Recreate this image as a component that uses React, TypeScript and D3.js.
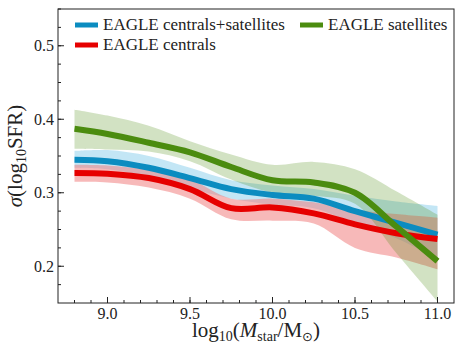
import * as d3 from "d3";
import React from "react";

// stellar mass bins (log10 Mstar/Msun)
const massBins = [8.8, 9.0, 9.25, 9.5, 9.75, 10.0, 10.25, 10.5, 10.75, 11.0];

// EAGLE centrals+satellites
const allMedian = [0.345, 0.343, 0.334, 0.32, 0.305, 0.297, 0.292, 0.275, 0.259, 0.243];
const allUpper = [0.357, 0.358, 0.35, 0.334, 0.317, 0.31, 0.305, 0.296, 0.288, 0.282];
const allLower = [0.334, 0.332, 0.322, 0.306, 0.292, 0.284, 0.279, 0.258, 0.238, 0.21];

// EAGLE centrals
const cenMedian = [0.327, 0.326, 0.32, 0.305, 0.279, 0.28, 0.272, 0.257, 0.245, 0.237];
const cenUpper = [0.338, 0.337, 0.331, 0.318, 0.292, 0.292, 0.287, 0.277, 0.271, 0.266];
const cenLower = [0.315, 0.314, 0.307, 0.292, 0.264, 0.262, 0.258, 0.225, 0.212, 0.196];

// EAGLE satellites
const satMedian = [0.387, 0.38, 0.368, 0.355, 0.335, 0.317, 0.314, 0.3, 0.254, 0.207];
const satUpper = [0.413, 0.405, 0.391, 0.37, 0.352, 0.338, 0.342, 0.332, 0.302, 0.27];
const satLower = [0.36, 0.359, 0.356, 0.343, 0.318, 0.3, 0.296, 0.285, 0.218, 0.152];

const xTicks = [9.0, 9.5, 10.0, 10.5, 11.0];
const yTicks = [0.2, 0.3, 0.4, 0.5];

const W = 464,
  H = 357;
const margin = { top: 9, right: 10, bottom: 54, left: 58 };

const series = [
  { name: "EAGLE centrals+satellites", med: allMedian, lo: allLower, hi: allUpper, color: "#0b8cc0", fill: "#87ceeb", op: 0.5 },
  { name: "EAGLE centrals", med: cenMedian, lo: cenLower, hi: cenUpper, color: "#e60000", fill: "#f08080", op: 0.55 },
  { name: "EAGLE satellites", med: satMedian, lo: satLower, hi: satUpper, color: "#4b8c0f", fill: "#4b8c0f", op: 0.25 },
];

export default function App() {
  const x = d3.scaleLinear().domain([8.7, 11.1]).range([margin.left, W - margin.right]);
  const y = d3.scaleLinear().domain([0.15, 0.55]).range([H - margin.bottom, margin.top]);
  const curve = d3.curveCatmullRom.alpha(0.5);

  const area = (lo: number[], hi: number[]) =>
    d3
      .area<number>()
      .x((d) => x(d))
      .y0((d, i) => y(lo[i]))
      .y1((d, i) => y(hi[i]))
      .curve(curve)(massBins);
  const line = (v: number[]) =>
    d3
      .line<number>()
      .x((d) => x(d))
      .y((d, i) => y(v[i]))
      .curve(curve)(massBins);

  const xMinor = d3.range(8.8, 11.1, 0.1).map((v) => +v.toFixed(2));
  const yMinor = d3.range(0.175, 0.55, 0.025).map((v) => +v.toFixed(3));
  const bottom = H - margin.bottom;
  const font = "Liberation Serif, DejaVu Serif, serif";

  return (
    <svg width={W} height={H} style={{ position: "absolute", left: 0, top: 0, background: "#fff" }}>
      {series.map((s) => (
        <path key={s.name + "band"} d={area(s.lo, s.hi) || ""} fill={s.fill} fillOpacity={s.op} stroke="none" />
      ))}
      {series.map((s) => (
        <path key={s.name + "line"} d={line(s.med) || ""} fill="none" stroke={s.color} strokeWidth={6} />
      ))}

      {/* frame */}
      <rect x={margin.left} y={margin.top} width={W - margin.left - margin.right} height={bottom - margin.top} fill="none" stroke="#222" strokeWidth={1} />

      {/* x ticks */}
      {xMinor.map((v) => (
        <line key={"xm" + v} x1={x(v)} x2={x(v)} y1={bottom} y2={bottom - 3} stroke="#222" />
      ))}
      {xTicks.map((v) => (
        <g key={"x" + v}>
          <line x1={x(v)} x2={x(v)} y1={bottom} y2={bottom - 6} stroke="#222" />
          <text x={x(v)} y={bottom + 16} textAnchor="middle" fontSize={16} style={{ fontFamily: font }} fill="#222">
            {d3.format(".1f")(v)}
          </text>
        </g>
      ))}

      {/* y ticks */}
      {yMinor.map((v) => (
        <line key={"ym" + v} x1={margin.left} x2={margin.left + 3} y1={y(v)} y2={y(v)} stroke="#222" />
      ))}
      {yTicks.map((v) => (
        <g key={"y" + v}>
          <line x1={margin.left} x2={margin.left + 6} y1={y(v)} y2={y(v)} stroke="#222" />
          <text x={margin.left - 4} y={y(v) + 5.5} textAnchor="end" fontSize={16} style={{ fontFamily: font }} fill="#222">
            {d3.format(".1f")(v)}
          </text>
        </g>
      ))}

      {/* axis labels */}
      <text x={256} y={337} textAnchor="middle" fontSize={21} style={{ fontFamily: font }} fill="#222">
        log<tspan fontSize={14} dy={4}>10</tspan>
        <tspan dy={-4}>(</tspan>
        <tspan fontStyle="italic">M</tspan>
        <tspan fontSize={14} dy={4}>star</tspan>
        <tspan dy={-4}>/M</tspan>
        <tspan fontSize={13} dy={4} style={{ fontFamily: "DejaVu Sans, sans-serif" }}>⊙</tspan>
        <tspan dy={-4}>)</tspan>
      </text>
      <text transform={`translate(22,${(margin.top + bottom) / 2}) rotate(-90)`} textAnchor="middle" fontSize={21} style={{ fontFamily: font }} fill="#222">
        <tspan fontStyle="italic">σ</tspan>(log<tspan fontSize={14} dy={4}>10</tspan>
        <tspan dy={-4}>SFR)</tspan>
      </text>

      {/* legend */}
      {[
        { s: series[0], lx: 75, ly: 25 },
        { s: series[1], lx: 75, ly: 45 },
        { s: series[2], lx: 300, ly: 25 },
      ].map(({ s, lx, ly }) => (
        <g key={"leg" + s.name}>
          <line x1={lx} x2={lx + 23} y1={ly} y2={ly} stroke={s.color} strokeWidth={5} />
          <text x={lx + 28} y={ly + 5} fontSize={17} style={{ fontFamily: font }} fill="#222">
            {s.name}
          </text>
        </g>
      ))}
    </svg>
  );
}
